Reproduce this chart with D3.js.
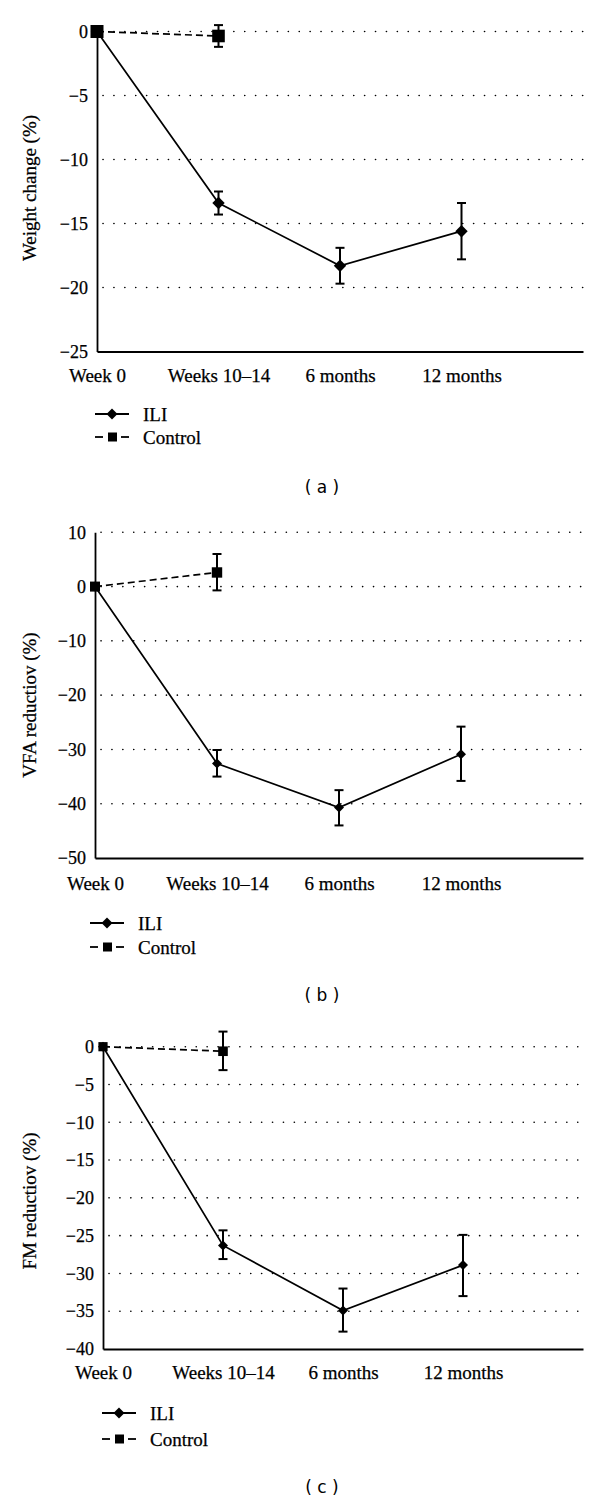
<!DOCTYPE html>
<html>
<head>
<meta charset="utf-8">
<script src="https://cdn.jsdelivr.net/npm/d3@7"></script>
<style>
  html, body { margin: 0; padding: 0; background: #fff; }
  svg { display: block; }
  .serif { font-family: "Liberation Serif", "DejaVu Serif", serif !important; stroke: #000; stroke-width: 0.25px; }
  .sans { font-family: "DejaVu Sans", Verdana, sans-serif !important; }
</style>
</head>
<body>
<script>
// ---------- DATA ----------
const categories = ["Week 0", "Weeks 10–14", "6 months", "12 months"];
const seriesNames = ["ILI", "Control"];
const panelLabels = ["( a )", "( b )", "( c )"];
const yTitles = ["Weight change (%)", "VFA reductiov (%)", "FM reductiov (%)"];

// Panel (a) weight change
const weightILI      = [0, -13.4, -18.3, -15.6];
const weightILILow   = [null, -14.3, -19.7, -17.8];
const weightILIHigh  = [null, -12.5, -16.9, -13.4];
const weightCtrl     = [0, -0.35];
const weightCtrlLow  = [null, -1.2];
const weightCtrlHigh = [null, 0.5];
const weightTicks    = [0, -5, -10, -15, -20, -25];

// Panel (b) VFA reduction
const vfaILI      = [0, -32.6, -40.7, -30.9];
const vfaILILow   = [null, -35.0, -44.0, -35.8];
const vfaILIHigh  = [null, -30.1, -37.5, -25.8];
const vfaCtrl     = [0, 2.6];
const vfaCtrlLow  = [null, -0.7];
const vfaCtrlHigh = [null, 6.0];
const vfaTicks    = [10, 0, -10, -20, -30, -40, -50];

// Panel (c) FM reduction
const fmILI      = [0, -26.3, -34.9, -28.9];
const fmILILow   = [null, -28.1, -37.7, -33.0];
const fmILIHigh  = [null, -24.3, -32.0, -24.9];
const fmCtrl     = [0, -0.6];
const fmCtrlLow  = [null, -3.1];
const fmCtrlHigh = [null, 2.0];
const fmTicks    = [0, -5, -10, -15, -20, -25, -30, -35, -40];

// ---------- LAYOUT ----------
const W = 600, H = 1502;
const svg = d3.select("body").append("svg").attr("width", W).attr("height", H);

const panels = [
  { ili: weightILI, iliLo: weightILILow, iliHi: weightILIHigh,
    ctl: weightCtrl, ctlLo: weightCtrlLow, ctlHi: weightCtrlHigh, ticks: weightTicks,
    x0: 97, x1: 583, yTop: 31.5, yBot: 351.5, catY: 382, titleCY: 188,
    legY: [414, 437], legX: 95, labelY: 493, diam: 6.2, sq: 6.3, sq0: 6.5, capW: 4.5 },
  { ili: vfaILI, iliLo: vfaILILow, iliHi: vfaILIHigh,
    ctl: vfaCtrl, ctlLo: vfaCtrlLow, ctlHi: vfaCtrlHigh, ticks: vfaTicks,
    x0: 95, x1: 583, yTop: 532.3, yBot: 858, catY: 890, titleCY: 705,
    legY: [923, 947], legX: 90, labelY: 1001, diam: 5, sq: 5.2, sq0: 5, capW: 4.5 },
  { ili: fmILI, iliLo: fmILILow, iliHi: fmILIHigh,
    ctl: fmCtrl, ctlLo: fmCtrlLow, ctlHi: fmCtrlHigh, ticks: fmTicks,
    x0: 103, x1: 583, yTop: 1046.7, yBot: 1349, catY: 1379, titleCY: 1201,
    legY: [1413, 1439], legX: 102, labelY: 1493, diam: 5, sq: 4.8, sq0: 4.6, capW: 4.5 }
];

function diamondPath(cx, cy, r) {
  return `M${cx},${cy - r}L${cx + r},${cy}L${cx},${cy + r}L${cx - r},${cy}Z`;
}

panels.forEach((p, pi) => {
  const g = svg.append("g");
  const x = d3.scaleLinear().domain([0, 4]).range([p.x0, p.x1]);
  const yMax = d3.max(p.ticks), yMin = d3.min(p.ticks);
  const y = d3.scaleLinear().domain([yMin, yMax]).range([p.yBot, p.yTop]);

  // gridlines (dotted) at every tick except the bottom
  g.selectAll("line.grid").data(p.ticks.filter(t => t !== yMin)).enter()
    .append("line")
    .attr("x1", p.x0 + 6).attr("x2", p.x1)
    .attr("y1", d => y(d)).attr("y2", d => y(d))
    .attr("stroke", "#000").attr("stroke-width", 1.6)
    .attr("stroke-linecap", "round")
    .attr("stroke-dasharray", "0.1,10.8");

  // y axis (no ticks)
  const yAxis = d3.axisLeft(y).tickValues(p.ticks).tickSize(0).tickPadding(9)
    .tickFormat(d => d < 0 ? "\u2212" + Math.abs(d) : String(d));
  const ya = g.append("g").attr("transform", `translate(${p.x0},0)`).call(yAxis)
    .attr("font-family", null).attr("font-size", null);
  ya.select(".domain").attr("stroke", "#000").attr("stroke-width", 1.8);
  ya.selectAll("text").attr("class", "serif").style("font-size", "18px").attr("fill", "#000");

  // x axis line with category labels
  const xAxis = d3.axisBottom(x).tickValues([0, 1, 2, 3]).tickSize(0).tickPadding(0)
    .tickFormat(i => categories[i]);
  const xa = g.append("g").attr("transform", `translate(0,${p.yBot})`).call(xAxis)
    .attr("font-family", null).attr("font-size", null);
  xa.select(".domain").attr("stroke", "#000").attr("stroke-width", 1.8);
  xa.selectAll("text").attr("class", "serif").style("font-size", "19px").attr("fill", "#000")
    .attr("dy", null).attr("y", p.catY - p.yBot);

  // y title
  g.append("text").attr("class", "serif")
    .attr("transform", `translate(36,${p.titleCY}) rotate(-90)`)
    .attr("text-anchor", "middle")
    .style("font-size", "19px")
    .text(yTitles[pi]);

  // lines
  const line = d3.line().x((d, i) => x(i)).y(d => y(d));
  g.append("path").datum(p.ili).attr("d", line)
    .attr("fill", "none").attr("stroke", "#000").attr("stroke-width", 1.7);
  g.append("path").datum(p.ctl).attr("d", line)
    .attr("fill", "none").attr("stroke", "#000").attr("stroke-width", 1.7)
    .attr("stroke-dasharray", "7,4");

  // error bars
  function errBars(lo, hi) {
    const idx = d3.range(lo.length).filter(i => lo[i] !== null);
    idx.forEach(i => {
      const cx = x(i);
      g.append("line").attr("x1", cx).attr("x2", cx).attr("y1", y(hi[i])).attr("y2", y(lo[i]))
        .attr("stroke", "#000").attr("stroke-width", 2);
      [hi[i], lo[i]].forEach(v => {
        g.append("line").attr("x1", cx - p.capW).attr("x2", cx + p.capW)
          .attr("y1", y(v)).attr("y2", y(v)).attr("stroke", "#000").attr("stroke-width", 2);
      });
    });
  }
  errBars(p.iliLo, p.iliHi);
  errBars(p.ctlLo, p.ctlHi);

  // markers
  g.selectAll("path.dm").data(p.ili).enter().append("path")
    .attr("d", (d, i) => diamondPath(x(i), y(d), p.diam)).attr("fill", "#000");
  g.selectAll("rect.sq").data(p.ctl).enter().append("rect")
    .attr("x", (d, i) => x(i) - (i === 0 ? p.sq0 : p.sq))
    .attr("y", (d, i) => y(d) - (i === 0 ? p.sq0 : p.sq))
    .attr("width", (d, i) => 2 * (i === 0 ? p.sq0 : p.sq))
    .attr("height", (d, i) => 2 * (i === 0 ? p.sq0 : p.sq))
    .attr("fill", "#000");

  // legend
  const lx = p.legX;
  g.append("line").attr("x1", lx).attr("x2", lx + 34).attr("y1", p.legY[0]).attr("y2", p.legY[0])
    .attr("stroke", "#000").attr("stroke-width", 1.8);
  g.append("path").attr("d", diamondPath(lx + 17, p.legY[0], 5.5)).attr("fill", "#000");
  g.append("text").attr("class", "serif").attr("x", lx + 48).attr("y", p.legY[0] + 6.5)
    .style("font-size", "19px").text(seriesNames[0]);
  g.append("line").attr("x1", lx).attr("x2", lx + 8).attr("y1", p.legY[1]).attr("y2", p.legY[1])
    .attr("stroke", "#000").attr("stroke-width", 1.8);
  g.append("line").attr("x1", lx + 26).attr("x2", lx + 34).attr("y1", p.legY[1]).attr("y2", p.legY[1])
    .attr("stroke", "#000").attr("stroke-width", 1.8);
  g.append("rect").attr("x", lx + 13).attr("y", p.legY[1] - 4.5).attr("width", 9).attr("height", 9)
    .attr("fill", "#000");
  g.append("text").attr("class", "serif").attr("x", lx + 48).attr("y", p.legY[1] + 6.5)
    .style("font-size", "19px").text(seriesNames[1]);

  // panel label
  g.append("text").attr("class", "sans").attr("x", 322).attr("y", p.labelY)
    .attr("text-anchor", "middle")
    .style("font-size", "17px")
    .text(panelLabels[pi]);
});
</script>
</body>
</html>
